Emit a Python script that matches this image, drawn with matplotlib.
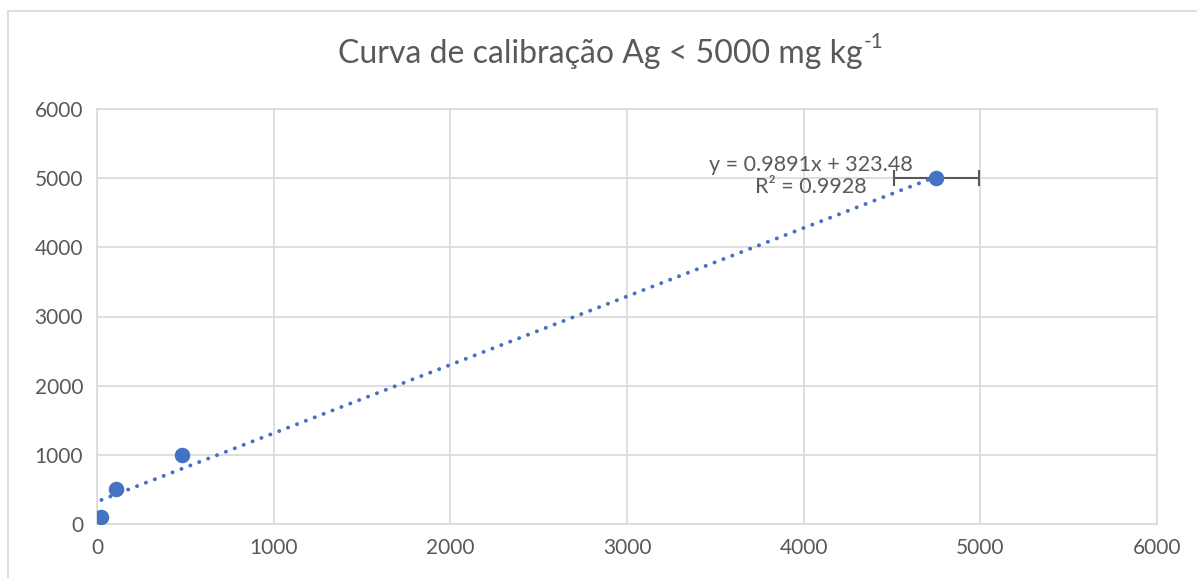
import matplotlib
matplotlib.use("Agg")
import matplotlib.pyplot as plt
import numpy as np
from matplotlib.patches import Rectangle

plt.rcParams['font.family'] = ['Lato', 'DejaVu Sans']

x_vals = [25, 110, 480, 4750]
y_vals = [100, 500, 1000, 5000]
x_err = [0, 0, 0, 240]
slope = 0.9891
intercept = 323.48
r2 = 0.9928
x_ticks = [0, 1000, 2000, 3000, 4000, 5000, 6000]
y_ticks = [0, 1000, 2000, 3000, 4000, 5000, 6000]

text_c = '#595959'
grid_c = '#d9d9d9'
blue = '#4472C4'

fig = plt.figure(figsize=(11.97, 5.78), dpi=100)
fig.patches.append(Rectangle((8/1197, -0.2), 1.2, 1.2 - 11/578, transform=fig.transFigure,
                             fill=False, edgecolor=grid_c, linewidth=1.2, figure=fig))
ax = fig.add_axes([97/1197, (578-524)/578, 1060/1197, (524-109)/578])
ax.set_xlim(0, 6000)
ax.set_ylim(0, 6000)
ax.set_xticks(x_ticks)
ax.set_yticks(y_ticks)
ax.grid(True, color=grid_c, linewidth=1.2)
ax.set_axisbelow(True)
for s in ax.spines.values():
    s.set_color(grid_c)
    s.set_linewidth(1.2)
ax.tick_params(length=0, labelsize=15, colors=text_c, pad=10)

ax.errorbar([x_vals[3]], [y_vals[3]], xerr=[x_err[3]], fmt='none', ecolor='#595959',
            elinewidth=1.5, capsize=6, capthick=1.5, zorder=2)
xs = np.array([min(x_vals), max(x_vals)])
ax.plot(xs, slope*xs + intercept, linestyle=(0, (0.05, 2.4)), color=blue, linewidth=2.8,
        dash_capstyle='round', zorder=3)
ax.scatter(x_vals, y_vals, s=125, color=blue, zorder=4, linewidths=0)

ax.text(4040, 5030, f"y = {slope}x + {intercept}\nR² = {r2}", ha='center', va='center',
        fontsize=15.5, color=text_c, linespacing=1.1, zorder=5)

t = fig.text(600/1197, 1-54/578, "Curva de calibração Ag < 5000 mg kg",
             ha='center', va='center', fontsize=23, color=text_c)
fig.canvas.draw()
bb = t.get_window_extent()
fig.text((bb.x1 + 1)/1197, (578-42)/578, "-1", ha='left', va='center',
         fontsize=15, color=text_c)

fig.savefig("out.png", dpi=100)
